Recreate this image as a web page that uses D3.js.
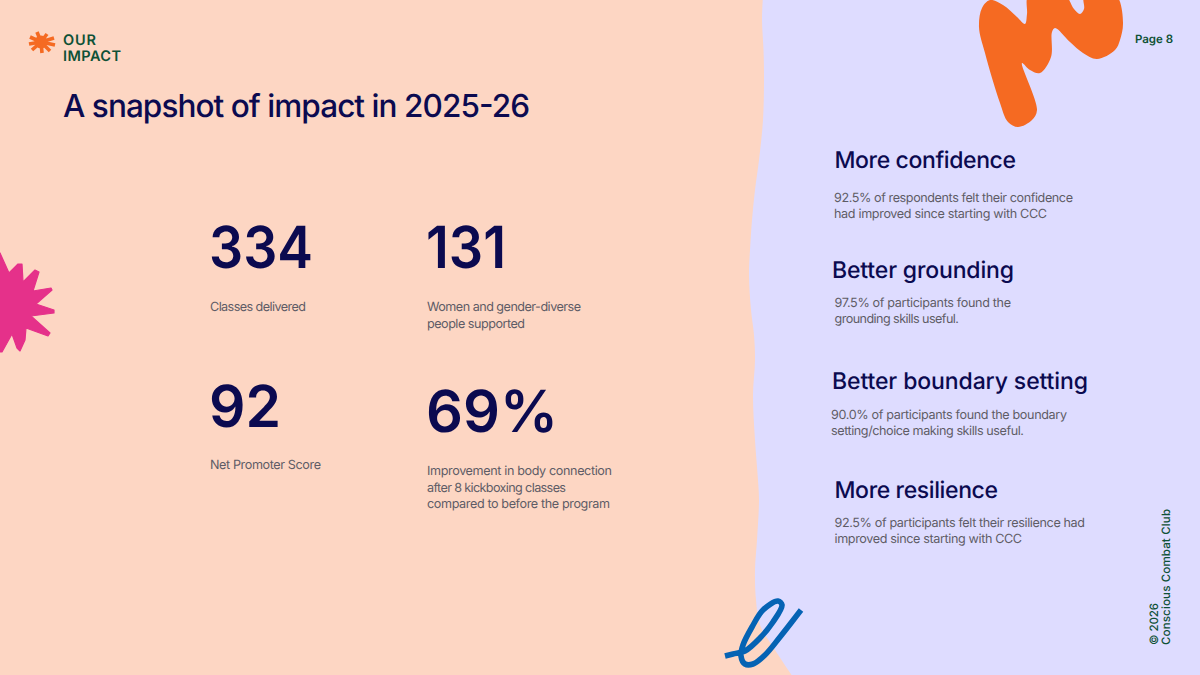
<!DOCTYPE html>
<html><head><meta charset="utf-8">
<script src="https://cdn.jsdelivr.net/npm/d3@7/dist/d3.min.js"></script>
<style>html,body{margin:0;padding:0;background:#fdd6c3;overflow:hidden}svg{display:block}text{font-family:Inter,"Noto Sans",sans-serif;text-rendering:geometricPrecision}</style>
</head><body><svg id="c" width="1200" height="675" viewBox="0 0 1200 675"></svg>
<script>
const titleText = "A snapshot of impact in 2025-26";
const brandLines = ["OUR", "IMPACT"];
const pageLabel = "Page 8";
const footerLines = ["© 2026", "Conscious Combat Club"];
const statValues = ["334", "131", "92", "69%"];
const statLabels = [["Classes delivered"], ["Women and gender-diverse", "people supported"], ["Net Promoter Score"], ["Improvement in body connection", "after 8 kickboxing classes", "compared to before the program"]];
const outcomeHeads = ["More confidence", "Better grounding", "Better boundary setting", "More resilience"];
const outcomeBodies = [
  ["92.5% of respondents felt their confidence", "had improved since starting with CCC"],
  ["97.5% of participants found the", "grounding skills useful."],
  ["90.0% of participants found the boundary", "setting/choice making skills useful."],
  ["92.5% of participants felt their resilience had", "improved since starting with CCC"]];

const C = {peach:"#fdd6c3", lilac:"#dedcff", navy:"#0b0a50", gray:"#5e5c66", green:"#0e5136", orange:"#f56a22", pink:"#e5318a", blue:"#0563b4"};
const svg = d3.select("#c");
const spline = d3.line().curve(d3.curveCatmullRom.alpha(0.5));
const closedSpline = d3.line().curve(d3.curveCatmullRomClosed.alpha(0.5));
const straight = d3.line();

// Layout geometry (decoration and text placement)
const edge = [[763,-5],[762,20],[763.5,50],[764,80],[763,120],[759,160],[755,190],[752,220],[750,250],[749,275],[751,310],[754,335],[755,360],[753,395],[755,440],[758,480],[759,500],[757,540],[755,570],[756,600],[760,625],[775,650],[795,680]];
svg.append("rect").attr("width",1200).attr("height",675).attr("fill",C.peach);
svg.append("path").attr("fill",C.lilac).attr("d", spline(edge)+"L1205,680L1205,-5Z");

const blob = [[990,0],[1003,5],[1017,17],[1025,24],[1027,14],[1028,-4],[1045,-12],[1066,-4],[1074,9],[1080,14],[1084,9],[1084,-4],[1100,-12],[1117,-4],[1123,23],[1120,40],[1115,50],[1097,59],[1083,53],[1070,42],[1055,28],[1052,32],[1051,57],[1040,73],[1030,70],[1022,63],[1037,110],[1032,120],[1018,127],[1008,122],[1000,103],[985,53],[979,27],[982,8]];
svg.append("path").attr("fill",C.orange).attr("d", closedSpline(blob));

const star = [[-4,250],[0,253],[9,273],[18,264],[22,264],[23,282],[35,270],[39,272],[33,291],[51,288],[52,290],[36,304],[54,310],[54,313],[31,316],[50,333],[48,336],[26,328],[25,340],[20,351],[17,348],[12,334],[2,352],[-4,352]];
svg.append("path").attr("fill",C.pink).attr("stroke",C.pink).attr("stroke-width",1.2).attr("stroke-linejoin","round").attr("d", straight(star)+"Z");

const scribble = [[725,656],[733,654],[745,651],[760,638],[773,622],[782,605],[778,601],[763,610],[752,627],[743,645],[741,656],[745,664],[753,664],[765,655],[780,637],[801,610]];
svg.append("path").attr("fill","none").attr("stroke",C.blue).attr("stroke-width",5.6).attr("d", spline(scribble));

const hub = [41,42], spokes = [[37,32],[47,34],[54,38],[55,45],[50,51],[42,53],[32,50],[29,44],[30,37]];
svg.append("g").selectAll("path").data(spokes).join("path").attr("stroke",C.orange).attr("stroke-width",3.6).attr("d", d=>straight([hub,d]));
svg.append("circle").attr("cx",hub[0]).attr("cy",hub[1]).attr("r",6.5).attr("fill",C.orange);

function put(str, x, y, size, weight, fill, right, extra, adjust){
  const t = svg.append("text").attr("x",x).attr("y",y).attr("font-size",size).attr("font-weight",weight).attr("fill",fill).text(str);
  if(right) t.attr("textLength",right-x).attr("lengthAdjust",adjust||"spacing");
  if(extra) t.attr("transform",extra);
  return t;
}
put(titleText,63,117,31.5,500,C.navy,530);
[[63,45,96],[63,61,121]].forEach((p,i)=>put(brandLines[i],p[0],p[1],14.5,600,C.green,p[2]));
put(pageLabel,1135,42.5,11.5,600,C.green,1173);

const statPos = [[209,268,313,58],[426,268,506,58],[209,427,281,58],[426,432,558,58]];
statValues.forEach((v,i)=>{const p=statPos[i]; put(v,p[0],p[1],p[3],600,C.navy,p[2],null,"spacingAndGlyphs");});
const labelPos = [[[210,311,306]],[[427,311,581],[427,328,525]],[[210,469,321]],[[427,475,612],[427,491.5,566],[427,507.5,610]]];
statLabels.forEach((ls,i)=>ls.forEach((s,j)=>{const p=labelPos[i][j]; put(s,p[0],p[1],12.6,400,C.gray,p[2]);}));

const headPos = [[834.5,167.5,1016],[832,277.5,1014],[832,388.5,1088],[834.5,497.5,998]];
outcomeHeads.forEach((s,i)=>{const p=headPos[i]; put(s,p[0],p[1],23,500,C.navy,p[2]);});
const bodyPos = [[[834,201.5,1073],[834,218,1047]],[[834.5,307,1011],[834.5,323,959]],[[831,419,1067],[831,435,1024]],[[834.5,527,1085],[834.5,543,1022]]];
outcomeBodies.forEach((ls,i)=>ls.forEach((s,j)=>{const p=bodyPos[i][j]; put(s,p[0],p[1],12.6,400,C.gray,p[2]);}));

[[1157.5,42],[1170,136]].forEach((p,i)=>{
  put(footerLines[i],0,0,11.5,500,C.green,p[1],`translate(${p[0]},645) rotate(-90)`);
});
</script></body></html>
